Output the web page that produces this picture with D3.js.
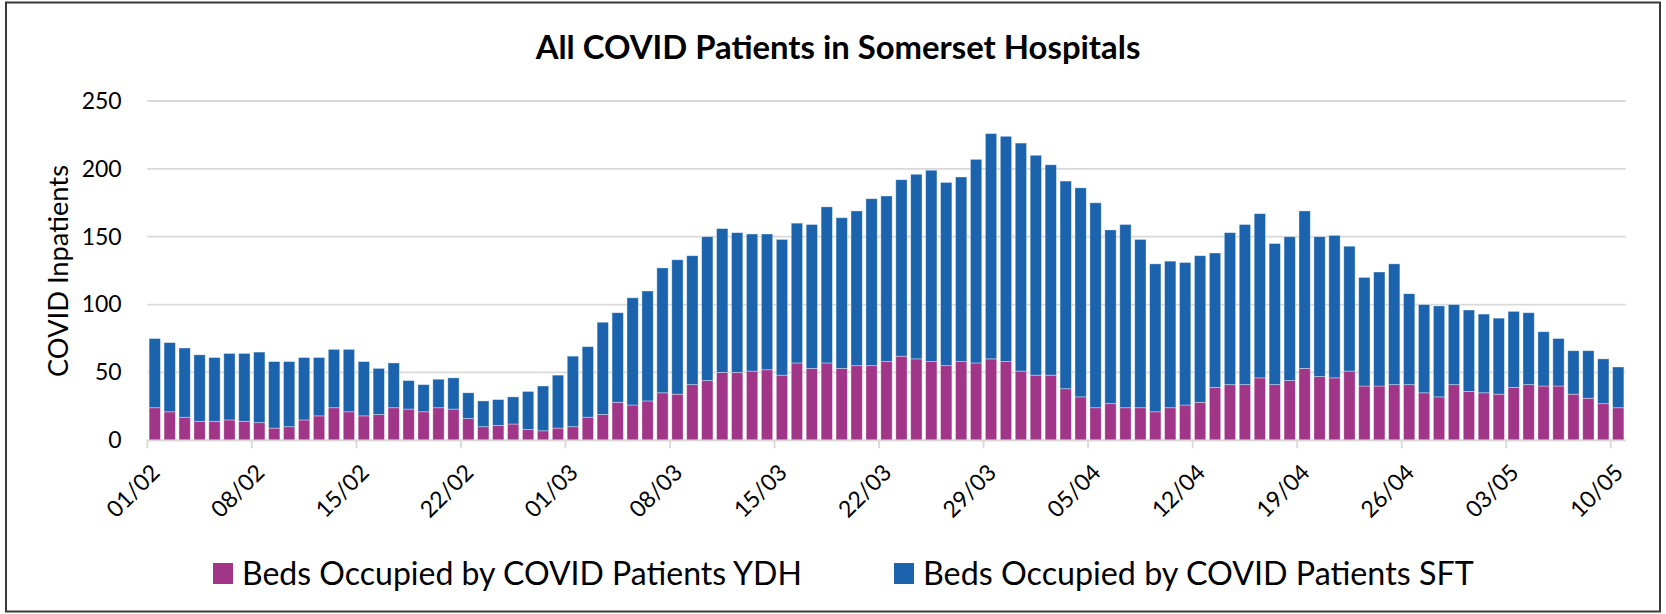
<!DOCTYPE html>
<html>
<head>
<meta charset="utf-8">
<script src="https://cdn.jsdelivr.net/npm/d3@7"></script>
<style>
  html, body { margin: 0; padding: 0; background: #fff; }
  svg { display: block; font-family: Lato, "Open Sans", sans-serif; }
</style>
</head>
<body>
<svg id="chart" width="1666" height="614"></svg>
<script>
// ---------- DATA ----------
const startDate = "2021-02-01";
const endDate = "2021-05-10";
const ydh = [24,21,17,14,14,15,14,13,9,10,
  15,18,24,21,18,19,24,23,21,24,
  23,16,10,11,12,8,7,9,10,17,
  19,28,26,29,35,34,41,44,50,50,
  51,52,48,57,53,57,53,55,55,58,
  62,60,58,55,58,57,60,58,51,48,
  48,38,32,24,27,24,24,21,24,26,
  28,39,41,41,46,41,44,53,47,46,
  51,40,40,41,41,35,32,41,36,35,
  34,39,41,40,40,34,31,27,24];
const sft = [51,51,51,49,47,49,50,52,49,48,
  46,43,43,46,40,34,33,21,20,21,
  23,19,19,19,20,28,33,39,52,52,
  68,66,79,81,92,99,95,106,106,103,
  101,100,100,103,106,115,111,114,123,122,
  130,136,141,135,136,150,166,166,168,162,
  155,153,154,151,128,135,124,109,108,105,
  108,99,112,118,121,104,106,116,103,105,
  92,80,84,89,67,65,67,59,60,58,
  56,56,53,40,35,32,35,33,30];
const xTickLabels = ["01/02","08/02","15/02","22/02","01/03","08/03","15/03","22/03","29/03","05/04","12/04","19/04","26/04","03/05","10/05"];
const yTickValues = [0,50,100,150,200,250];
const seriesNames = ["Beds Occupied by COVID Patients YDH","Beds Occupied by COVID Patients SFT"];
const seriesColors = ["#a13689","#1b63ad"];
const titleText = "All COVID Patients in Somerset Hospitals";
const yTitleText = "COVID Inpatients";

// categories (dates)
const fmt = d3.timeFormat("%d/%m");
const parse = d3.timeParse("%Y-%m-%d");
const categories = d3.timeDay.range(parse(startDate), d3.timeDay.offset(parse(endDate), 1)).map(fmt);
const rows = categories.map((c, i) => ({cat: c, ydh: ydh[i], sft: sft[i]}));

// ---------- LAYOUT ----------
const svg = d3.select("#chart");
const L = 147.3, R = 1625.7, T = 101, B = 440.3;

function fitWidth(sel, target) {
  const w = sel.node().getComputedTextLength();
  const fs = parseFloat(sel.attr("font-size"));
  sel.attr("font-size", fs * target / w);
}

// border
svg.append("rect").attr("x", 6).attr("y", 2.5).attr("width", 1654).attr("height", 609)
  .attr("fill", "none").attr("stroke", "#3a3a3a").attr("stroke-width", 2);

const x = d3.scaleBand().domain(categories).range([L, R]).paddingInner(0.243).paddingOuter(0.1215);
const y = d3.scaleLinear().domain([0, 250]).range([B, T]);

// gridlines
svg.append("g").selectAll("line").data(yTickValues).join("line")
  .attr("x1", L).attr("x2", R)
  .attr("y1", d => y(d)).attr("y2", d => y(d))
  .attr("stroke", "#d9d9d9").attr("stroke-width", 1.8);

// stacked bars
const stack = d3.stack().keys(["ydh", "sft"]);
const stacked = stack(rows);
svg.append("g").selectAll("g").data(stacked).join("g")
  .attr("fill", (d, i) => seriesColors[i])
  .selectAll("rect").data(d => d).join("rect")
  .attr("x", d => x(d.data.cat))
  .attr("width", x.bandwidth())
  .attr("y", d => y(d[1]))
  .attr("height", d => y(d[0]) - y(d[1]))
  .attr("stroke", "rgba(255,255,255,0.45)").attr("stroke-width", 0.8);

// x axis
const step = x.step();
const xAxis = d3.axisBottom(x).tickValues(xTickLabels).tickSize(8).tickSizeOuter(0);
const gx = svg.append("g").attr("transform", `translate(${-step / 2},${B})`).call(xAxis);
gx.select(".domain").remove();
gx.selectAll(".tick line").attr("stroke", "#d9d9d9").attr("stroke-width", 1.8);
gx.selectAll(".tick text")
  .attr("x", null).attr("y", null).attr("dy", null)
  .attr("transform", `translate(14,${474 - B}) rotate(-45)`)
  .attr("text-anchor", "end")
  .attr("font-family", "Lato").attr("font-size", 23).attr("fill", "#000");
svg.append("line").attr("x1", L).attr("x2", R).attr("y1", B).attr("y2", B)
  .attr("stroke", "#d9d9d9").attr("stroke-width", 1.8);

// y axis
const yAxis = d3.axisLeft(y).tickValues(yTickValues).tickSize(0).tickPadding(L - 121.7);
const gy = svg.append("g").attr("transform", `translate(${L},0)`).call(yAxis);
gy.select(".domain").remove();
gy.selectAll(".tick text").attr("font-family", "Lato").attr("font-size", 23).attr("fill", "#000");

// title
const title = svg.append("text").attr("x", 838).attr("y", 58.5).attr("text-anchor", "middle")
  .attr("font-family", "Lato").attr("font-weight", "bold").attr("font-size", 30).attr("fill", "#000")
  .text(titleText);
fitWidth(title, 605);

// y title
const yt = svg.append("text").attr("transform", "translate(67.5,271) rotate(-90)")
  .attr("text-anchor", "middle").attr("font-family", "Lato").attr("font-size", 26).attr("fill", "#000")
  .text(yTitleText);
fitWidth(yt, 212);

// legend
const legendX = [213, 894];
const legendTextW = [560, 551];
seriesNames.forEach((name, i) => {
  svg.append("rect").attr("x", legendX[i]).attr("y", 563).attr("width", 20).attr("height", 21)
    .attr("fill", seriesColors[i]);
  const t = svg.append("text").attr("x", legendX[i] + 29).attr("y", 585)
    .attr("font-family", "Lato").attr("font-size", 30).attr("fill", "#000").text(name);
  fitWidth(t, legendTextW[i]);
});
</script>
</body>
</html>
